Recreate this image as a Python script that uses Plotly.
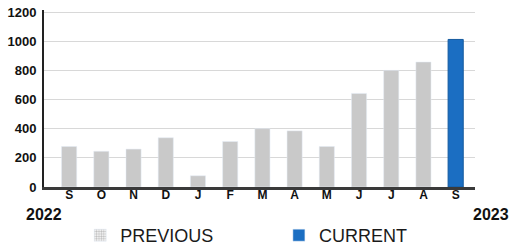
import plotly.graph_objects as go

months = ["S", "O", "N", "D", "J", "F", "M", "A", "M", "J", "J", "A", "S"]
previous_values = [278, 245, 260, 338, 77, 312, 400, 385, 278, 642, 800, 857, None]
current_values = [None] * 12 + [1012]
y_ticks = [0, 200, 400, 600, 800, 1000, 1200]
year_start = "2022"
year_end = "2023"

x_idx = list(range(len(months)))

fig = go.Figure()
fig.add_trace(go.Bar(x=x_idx, y=previous_values, marker_color="#c9c9c9",
                     width=0.47, showlegend=False, name="PREVIOUS"))
fig.add_trace(go.Bar(x=x_idx, y=current_values, marker_color="#1b6ec2",
                     marker_line=dict(color="#155a9e", width=1),
                     width=0.47, showlegend=False, name="CURRENT"))
# legend entries
fig.add_trace(go.Bar(x=[None], y=[None], name="PREVIOUS", legend="legend",
                     marker=dict(color="#ffffff", pattern=dict(shape=".", fgcolor="#777777", size=3, solidity=0.5))))
fig.add_trace(go.Bar(x=[None], y=[None], name="CURRENT", legend="legend2",
                     marker_color="#1b6ec2"))

legend_font = dict(size=18, color="#1a1a1a", family="Liberation Sans, Arial, sans-serif")
fig.update_layout(
    width=510, height=247,
    margin=dict(l=44, r=35, t=10, b=60, autoexpand=False),
    paper_bgcolor="white", plot_bgcolor="white",
    barmode="overlay",
    font=dict(family="Liberation Sans, Arial, sans-serif", color="#111111"),
    legend=dict(x=0.084, y=-0.274, xanchor="left", yanchor="middle",
                font=legend_font, bgcolor="rgba(0,0,0,0)"),
    legend2=dict(x=0.545, y=-0.274, xanchor="left", yanchor="middle",
                 font=legend_font, bgcolor="rgba(0,0,0,0)"),
    annotations=[
        dict(text="<b>" + year_start + "</b>", x=-0.001, y=-0.154, xref="paper", yref="paper",
             xanchor="center", yanchor="middle", showarrow=False, font=dict(size=16)),
        dict(text="<b>" + year_end + "</b>", x=(511 - 44) / 431, y=-0.154, xref="paper", yref="paper",
             xanchor="right", yanchor="middle", showarrow=False, font=dict(size=16)),
    ],
)

fig.update_xaxes(
    tickmode="array", tickvals=x_idx, ticktext=["<b>" + m + "</b>" for m in months],
    range=[-0.78, 12.6], showline=True, linecolor="#3a3a3a", linewidth=3,
    ticks="", tickfont=dict(size=12), showgrid=False, zeroline=False,
    ticklabelstandoff=-5,
)
fig.update_yaxes(
    tickmode="array", tickvals=y_ticks, ticktext=["<b>%d</b>" % v for v in y_ticks],
    range=[0, 1214], showline=True, linecolor="#222222", linewidth=2,
    gridcolor="#d8d8d8", gridwidth=1, tickfont=dict(size=13), zeroline=False,
    ticks="outside", ticklen=3, tickcolor="rgba(0,0,0,0)",
)

fig.write_html("out.html", config={"displayModeBar": False},
               post_script="document.body.style.margin='0';document.body.style.overflow='hidden';")
